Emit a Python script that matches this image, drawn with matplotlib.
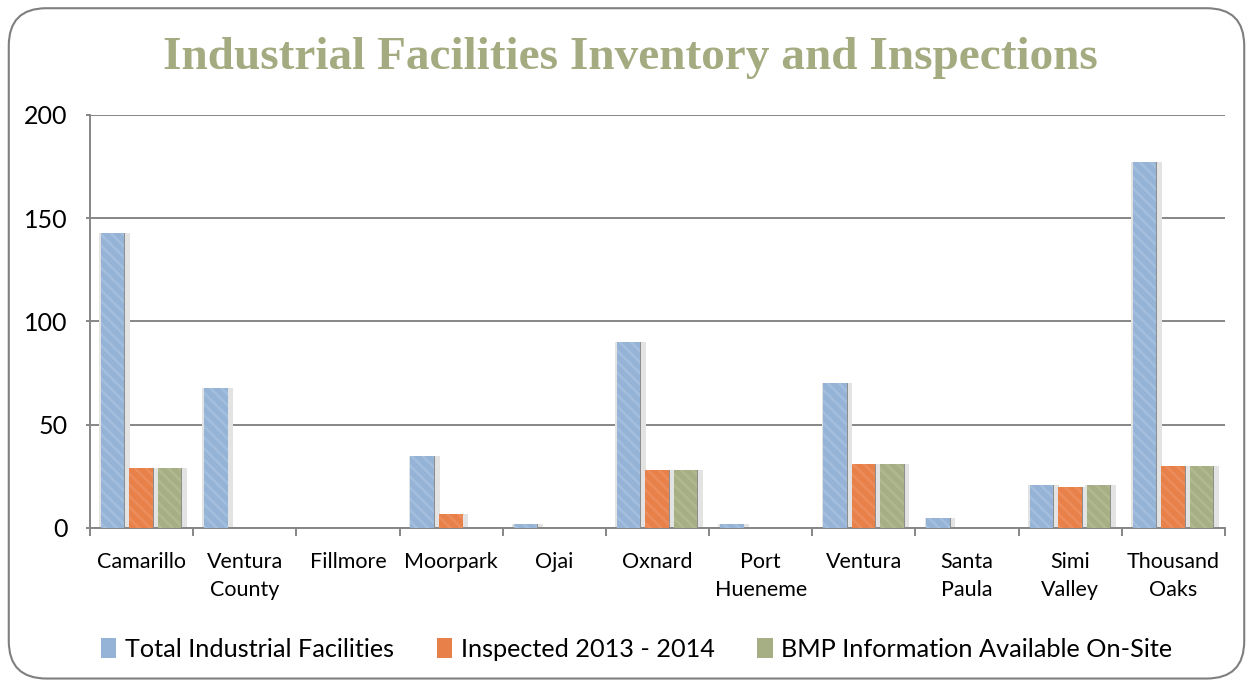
import matplotlib.pyplot as plt
import numpy as np
from matplotlib.patches import FancyBboxPatch, Patch

# данные с картинки
cities = ['Camarillo', 'Ventura\nCounty', 'Fillmore', 'Moorpark', 'Ojai', 'Oxnard',
          'Port\nHueneme', 'Ventura', 'Santa\nPaula', 'Simi\nValley', 'Thousand\nOaks']
total = [143, 68, 0, 35, 2, 90, 2, 70, 5, 21, 177]
inspected = [29, 0, 0, 7, 0, 28, 0, 31, 0, 20, 30]
bmp = [29, 0, 0, 0, 0, 28, 0, 31, 0, 21, 30]
series_names = ['Total Industrial Facilities', 'Inspected 2013 - 2014',
                'BMP Information Available On-Site']
colors = ['#95B3D7', '#E8804A', '#A6AF84']

plt.rcParams['font.family'] = ['Lato', 'DejaVu Sans']
plt.rcParams['hatch.linewidth'] = 2.0

fig = plt.figure(figsize=(12.53, 6.84), dpi=100)
ax = fig.add_axes([0.0718, 0.2281, 0.9059, 0.6038])

x = np.arange(len(cities))
w = 0.237
step = 0.276
hatch_cols = ['#A3BDDD', '#EC8C5A', '#B0B890']
for k, vals in enumerate([total, inspected, bmp]):
    pos = x + (k - 1) * step
    # тень вокруг столбика
    ax.bar(pos + 0.015, vals, width=w + 0.06, color='#E3E3E3', zorder=2)
    ax.bar(pos, vals, width=w, facecolor=colors[k], zorder=3,
           hatch='\\\\\\', edgecolor=hatch_cols[k], linewidth=0)
    ax.bar(pos + w / 2 - 0.004, vals, width=0.008, color='#8E8E8E', zorder=4)

ax.set_xlim(-0.5, len(cities) - 0.5)
ax.set_ylim(0, 200)
ax.set_yticks([0, 50, 100, 150, 200])
ax.yaxis.grid(True, color='#868686', linewidth=1.4, zorder=1)
ax.set_xticks(x)
ax.set_xticklabels(cities, fontsize=15.5, linespacing=1.5)
ax.set_xticks(np.arange(-0.5, len(cities), 1), minor=True)
ax.tick_params(axis='x', which='major', length=0, pad=17)
ax.tick_params(axis='x', which='minor', length=6, color='#868686', width=1.4)
ax.tick_params(axis='y', length=3, color='#868686', width=1.4, labelsize=18, pad=13)
for s in ['top', 'right']:
    ax.spines[s].set_visible(False)
for s in ['left', 'bottom']:
    ax.spines[s].set_color('#868686')
    ax.spines[s].set_linewidth(1.4)

fig.text(0.503, 0.915, 'Industrial Facilities Inventory and Inspections',
         ha='center', va='center', fontsize=34, fontweight='bold',
         family='Liberation Serif', color='#A4AB80')

handles = [Patch(facecolor=c, edgecolor='none') for c in colors]
fig.legend(handles, series_names, loc='center', bbox_to_anchor=(0.508, 0.051), ncol=3,
           frameon=False, fontsize=18.2, handlelength=0.6, handleheight=0.9,
           handletextpad=0.35, columnspacing=1.7)

border = FancyBboxPatch((0.007, 0.008), 0.986, 0.98, boxstyle='round,pad=0,rounding_size=0.03',
                        transform=fig.transFigure, fill=False, edgecolor='#7F7F7F',
                        linewidth=1.5, mutation_aspect=1.83)
fig.patches.append(border)

fig.savefig('out.png', dpi=100)
